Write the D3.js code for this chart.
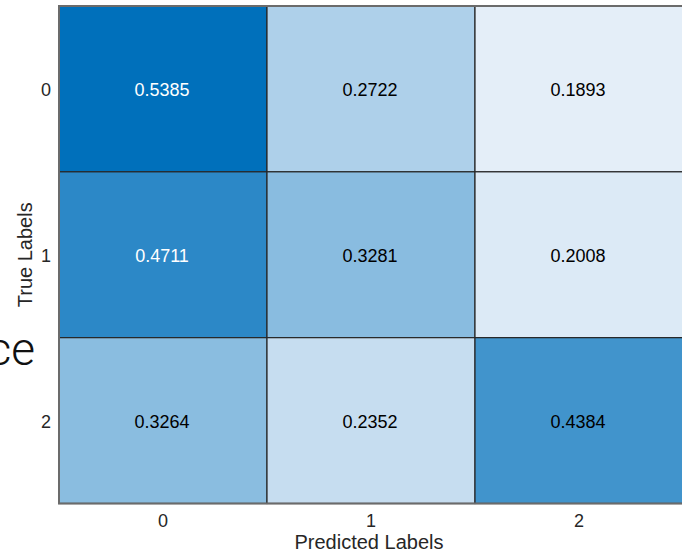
<!DOCTYPE html>
<html><head><meta charset="utf-8">
<script src="https://cdn.jsdelivr.net/npm/d3@7"></script>
<style>body{margin:0;background:#fff}svg{display:block}</style>
</head><body>
<script>
const predictedLabels = ["0","1","2"];
const trueLabels = ["0","1","2"];
const values = [
  [0.5385, 0.2722, 0.1893],
  [0.4711, 0.3281, 0.2008],
  [0.3264, 0.2352, 0.4384]
];
const xTitle = "Predicted Labels";
const yTitle = "True Labels";
const sideText = "ce";

(function(){
const W = 682, H = 554;
const svg = d3.select("body").append("svg").attr("width", W).attr("height", H);
const mL = 59, mT = 6, mR = 683, mB = 503.5;
const font = "'Liberation Sans', Arial, sans-serif";

const x = d3.scaleBand().domain(predictedLabels).range([mL, mR]);
const y = d3.scaleBand().domain(trueLabels).range([mT, mB]);
const flat = values.flat();
const vmin = d3.min(flat), vmax = d3.max(flat);
const color = d3.scaleLinear().domain([vmin, vmax])
  .range(["#e4eef8", "#0070bb"]).interpolate(d3.interpolateRgb);

const cells = [];
values.forEach((row, i) => row.forEach((v, j) => cells.push({r: trueLabels[i], c: predictedLabels[j], v})));

svg.append("g").selectAll("rect").data(cells).join("rect")
  .attr("x", d => x(d.c)).attr("y", d => y(d.r))
  .attr("width", x.bandwidth()).attr("height", y.bandwidth())
  .attr("fill", d => color(d.v)).attr("stroke", "#262626").attr("stroke-width", 1.2);

svg.append("g").selectAll("text").data(cells).join("text")
  .attr("x", d => x(d.c) + x.bandwidth()/2 - 1).attr("y", d => y(d.r) + y.bandwidth()/2 + 7)
  .attr("text-anchor", "middle")
  .attr("font-family", font).attr("font-size", 18)
  .attr("fill", d => (d.v - vmin) / (vmax - vmin) > 0.75 ? "#ffffff" : "#000000")
  .text(d => d.v.toFixed(4));

svg.append("rect").attr("x", mL).attr("y", mT).attr("width", mR - mL).attr("height", mB - mT)
  .attr("fill", "none").attr("stroke", "#6b6b6b").attr("stroke-width", 2);

const xAxis = svg.append("g").attr("transform", `translate(0,${mB})`)
  .call(d3.axisBottom(x).tickSize(0).tickPadding(11));
const yAxis = svg.append("g").attr("transform", `translate(${mL},0)`)
  .call(d3.axisLeft(y).tickSize(0).tickPadding(8));
[xAxis, yAxis].forEach(a => {
  a.select(".domain").remove();
  a.selectAll("text").attr("font-family", font).attr("font-size", 18).attr("fill", "#262626");
});
yAxis.selectAll("text").attr("dy", "0.4em");

svg.append("text").attr("x", (mL + mR)/2 - 2).attr("y", 549)
  .attr("text-anchor", "middle").attr("font-family", font).attr("font-size", 20)
  .attr("fill", "#262626").text(xTitle);
svg.append("text").attr("transform", `translate(32,${(mT+mB)/2}) rotate(-90)`)
  .attr("text-anchor", "middle").attr("font-family", font).attr("font-size", 20)
  .attr("fill", "#262626").text(yTitle);

svg.append("text").attr("x", 35).attr("y", 365).attr("text-anchor", "end")
  .attr("font-family", "Roboto, 'Open Sans', sans-serif").attr("font-weight", 300)
  .attr("font-size", 46).attr("fill", "#111").text(sideText);
})();
</script>
</body></html>
